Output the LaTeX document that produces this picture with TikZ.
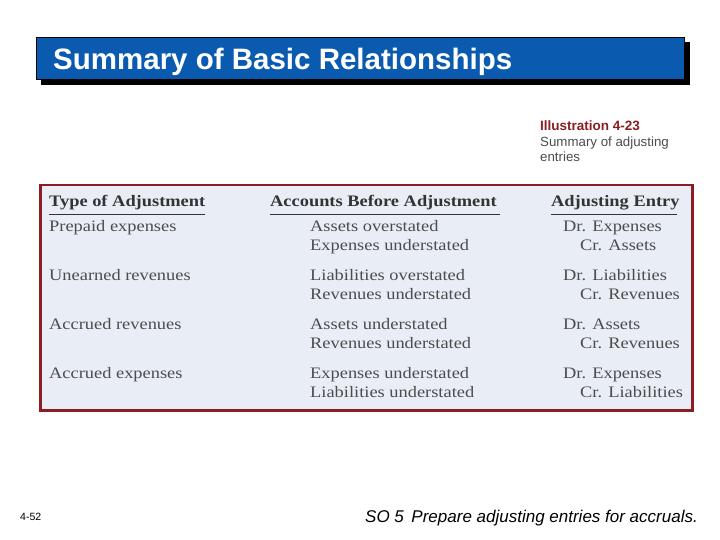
\documentclass[tikz,border=0pt]{standalone}
\usepackage{fontspec}
\setmainfont{Liberation Serif}[FakeStretch=1.15]
\newfontfamily\arial{Liberation Sans}
\begin{document}
\begin{tikzpicture}[x=1pt,y=-1pt,
 cell/.style={anchor=base west,inner sep=0pt,font=\fontsize{16}{18}\selectfont,text=black!70},
 head/.style={anchor=base west,inner sep=0pt,font=\fontsize{16}{18}\selectfont\bfseries,text=black!80},
 ul/.style={line width=1.2pt,black!80}]
\useasboundingbox[fill=white] (0,0) rectangle (720,540);
\definecolor{ttl}{HTML}{0A5AB0}
\definecolor{frame}{HTML}{8B1E22}
\definecolor{tbl}{HTML}{E9EEF6}
\fill[black] (41,42) rectangle (690,85);
\node[draw=black,line width=1pt,fill=ttl,minimum width=648pt,minimum height=42pt,anchor=north west,inner sep=0pt] (bar) at (36,37) {};
\node[anchor=base west,inner sep=0pt,text=white,font=\arial\fontsize{29.5}{32}\selectfont\bfseries] (title) at (53,70) {Summary of Basic Relationships};
\node[anchor=base west,inner sep=0pt,text=frame,font=\arial\fontsize{13.5}{15}\selectfont\bfseries] (ill) at (540,131) {Illustration 4-23};
\node[anchor=base west,inner sep=0pt,text=black!70,font=\arial\fontsize{13.3}{15}\selectfont] (ill2) at (540,147) {Summary of adjusting};
\node[anchor=base west,inner sep=0pt,text=black!70,font=\arial\fontsize{13.3}{15}\selectfont] (ill3) at (540,162) {entries};
\node[draw=frame,line width=2.5pt,fill=tbl,minimum width=652pt,minimum height=225pt,anchor=north west,inner sep=0pt] (tab) at (39,184) {};
\node[head] (h1) at (49,207) {Type of Adjustment};
\node[head] (h2) at (270,207) {Accounts Before Adjustment};
\node[head] (h3) at (551,207) {Adjusting Entry};
\draw[ul] (h1.south west) ++(0,4) coordinate (a1) -- ++(156,0) coordinate (b1);
\draw[ul] (h2.south west) ++(0,4) coordinate (a2) -- ++(230,0) coordinate (b2);
\draw[ul] (h3.south west) ++(0,4) coordinate (a3) -- ++(126,0) coordinate (b3);
\foreach \y/\t/\p/\q/\d/\c in {
 231/Prepaid expenses/Assets overstated/Expenses understated/Dr. Expenses/Cr. Assets,
 280/Unearned revenues/Liabilities overstated/Revenues understated/Dr. Liabilities/Cr. Revenues,
 329/Accrued revenues/Assets understated/Revenues understated/Dr. Assets/Cr. Revenues,
 378/Accrued expenses/Expenses understated/Liabilities understated/Dr. Expenses/Cr. Liabilities}{
 \node[cell] at (49,\y) {\t};
 \node[cell] at (310,\y) {\p};
 \node[cell] at (310,\y+19) {\q};
 \node[cell] at (563,\y) {\d};
 \node[cell] at (580,\y+19) {\c};
}
\node[anchor=base west,inner sep=0pt,font=\arial\fontsize{10.5}{12}\selectfont] (pg) at (20,520) {4-52};
\node[anchor=base west,inner sep=0pt,font=\arial\fontsize{17}{18}\selectfont\itshape] (so) at (365,522) {SO 5\, Prepare adjusting entries for accruals.};
\end{tikzpicture}
\end{document}
